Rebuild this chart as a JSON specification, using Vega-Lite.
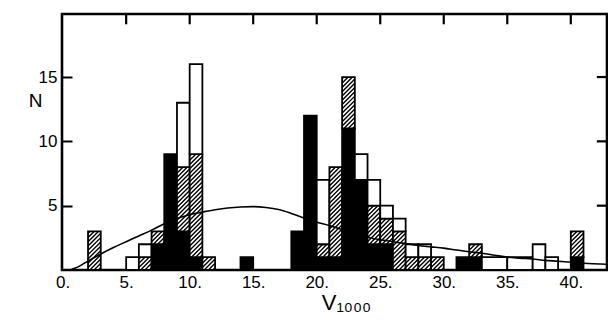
{
  "$schema": "https://vega.github.io/schema/vega-lite/v6.json",
  "width": 545,
  "height": 256,
  "autosize": {"type": "none"},
  "padding": {"left": 62, "top": 14, "right": 1, "bottom": 55},
  "background": "white",
  "config": {
    "view": {"stroke": "black", "strokeWidth": 2.6},
    "font": "Liberation Sans"
  },
  "datasets": {
    "bars": [
      {"x0": 2, "x1": 3, "type": "hatched", "n": 3},
      {"x0": 5, "x1": 6, "type": "open", "n": 1},
      {"x0": 6, "x1": 7, "type": "hatched", "n": 1},
      {"x0": 6, "x1": 7, "type": "open", "n": 1},
      {"x0": 7, "x1": 8, "type": "black", "n": 2},
      {"x0": 7, "x1": 8, "type": "hatched", "n": 1},
      {"x0": 8, "x1": 9, "type": "black", "n": 9},
      {"x0": 9, "x1": 10, "type": "black", "n": 3},
      {"x0": 9, "x1": 10, "type": "hatched", "n": 5},
      {"x0": 9, "x1": 10, "type": "open", "n": 5},
      {"x0": 10, "x1": 11, "type": "black", "n": 1},
      {"x0": 10, "x1": 11, "type": "hatched", "n": 8},
      {"x0": 10, "x1": 11, "type": "open", "n": 7},
      {"x0": 11, "x1": 12, "type": "hatched", "n": 1},
      {"x0": 14, "x1": 15, "type": "black", "n": 1},
      {"x0": 18, "x1": 19, "type": "black", "n": 3},
      {"x0": 19, "x1": 20, "type": "black", "n": 12},
      {"x0": 20, "x1": 21, "type": "black", "n": 1},
      {"x0": 20, "x1": 21, "type": "hatched", "n": 1},
      {"x0": 20, "x1": 21, "type": "open", "n": 5},
      {"x0": 21, "x1": 22, "type": "black", "n": 1},
      {"x0": 21, "x1": 22, "type": "hatched", "n": 7},
      {"x0": 22, "x1": 23, "type": "black", "n": 11},
      {"x0": 22, "x1": 23, "type": "hatched", "n": 4},
      {"x0": 23, "x1": 24, "type": "black", "n": 7},
      {"x0": 23, "x1": 24, "type": "open", "n": 2},
      {"x0": 24, "x1": 25, "type": "black", "n": 2},
      {"x0": 24, "x1": 25, "type": "hatched", "n": 3},
      {"x0": 24, "x1": 25, "type": "open", "n": 2},
      {"x0": 25, "x1": 26, "type": "black", "n": 2},
      {"x0": 25, "x1": 26, "type": "hatched", "n": 2},
      {"x0": 25, "x1": 26, "type": "open", "n": 1},
      {"x0": 26, "x1": 27, "type": "hatched", "n": 3},
      {"x0": 26, "x1": 27, "type": "open", "n": 1},
      {"x0": 27, "x1": 28, "type": "hatched", "n": 1},
      {"x0": 27, "x1": 28, "type": "open", "n": 1},
      {"x0": 28, "x1": 29, "type": "hatched", "n": 1},
      {"x0": 28, "x1": 29, "type": "open", "n": 1},
      {"x0": 29, "x1": 30, "type": "hatched", "n": 1},
      {"x0": 31, "x1": 32, "type": "black", "n": 1},
      {"x0": 32, "x1": 33, "type": "black", "n": 1},
      {"x0": 32, "x1": 33, "type": "hatched", "n": 1},
      {"x0": 33, "x1": 35, "type": "open", "n": 1},
      {"x0": 35, "x1": 37, "type": "open", "n": 1},
      {"x0": 37, "x1": 38, "type": "open", "n": 2},
      {"x0": 38, "x1": 39, "type": "open", "n": 1},
      {"x0": 40, "x1": 41, "type": "black", "n": 1},
      {"x0": 40, "x1": 41, "type": "hatched", "n": 2}
    ],
    "curve": [
      {"v": 0.6, "N": 0.0},
      {"v": 1.0, "N": 0.15},
      {"v": 1.5, "N": 0.4},
      {"v": 2.1, "N": 0.75},
      {"v": 3.0, "N": 1.25},
      {"v": 4.0, "N": 1.75},
      {"v": 5.0, "N": 2.2},
      {"v": 6.0, "N": 2.65},
      {"v": 7.0, "N": 3.1},
      {"v": 8.0, "N": 3.6},
      {"v": 9.0, "N": 4.0},
      {"v": 10.0, "N": 4.3},
      {"v": 11.0, "N": 4.5},
      {"v": 12.0, "N": 4.68},
      {"v": 13.0, "N": 4.82},
      {"v": 14.0, "N": 4.9},
      {"v": 15.0, "N": 4.93},
      {"v": 16.0, "N": 4.86},
      {"v": 17.0, "N": 4.7},
      {"v": 18.0, "N": 4.4},
      {"v": 19.0, "N": 4.05},
      {"v": 20.0, "N": 3.72},
      {"v": 21.0, "N": 3.45},
      {"v": 22.0, "N": 3.15},
      {"v": 23.0, "N": 2.85},
      {"v": 24.0, "N": 2.55},
      {"v": 25.0, "N": 2.35},
      {"v": 26.0, "N": 2.2},
      {"v": 27.0, "N": 2.05},
      {"v": 28.0, "N": 1.9},
      {"v": 29.0, "N": 1.8},
      {"v": 30.0, "N": 1.7},
      {"v": 31.0, "N": 1.55},
      {"v": 32.0, "N": 1.42},
      {"v": 33.0, "N": 1.3},
      {"v": 34.0, "N": 1.15},
      {"v": 35.0, "N": 1.0},
      {"v": 36.0, "N": 0.92},
      {"v": 37.0, "N": 0.85},
      {"v": 38.0, "N": 0.75},
      {"v": 39.0, "N": 0.68},
      {"v": 40.0, "N": 0.6},
      {"v": 41.0, "N": 0.53},
      {"v": 42.85, "N": 0.45}
    ],
    "xticks": [{"t": 5}, {"t": 10}, {"t": 15}, {"t": 20}, {"t": 25}, {"t": 30}, {"t": 35}, {"t": 40}],
    "yticks": [{"t": 5}, {"t": 10}, {"t": 15}]
  },
  "layer": [
    {
      "data": {"name": "bars"},
      "transform": [
        {"stack": "n", "groupby": ["x0"], "sort": [{"field": "type"}], "as": ["lo", "hi"]}
      ],
      "mark": {"type": "rect", "stroke": "black", "strokeWidth": 1.8},
      "encoding": {
        "x": {"field": "x0", "type": "quantitative",
          "scale": {"domain": [-0.05, 42.85], "nice": false, "zero": false},
          "axis": {"orient": "bottom", "values": [0, 5, 10, 15, 20, 25, 30, 35, 40],
            "labelExpr": "datum.value + '.'", "ticks": false, "domain": false, "grid": false,
            "labelFontSize": 17, "labelColor": "black", "labelPadding": 4, "labelFlush": false, "labelDx": 1,
            "title": "V₁₀₀₀", "titleFontSize": 22, "titleFontWeight": "normal", "titleColor": "black",
            "titleAlign": "center", "titleBaseline": "alphabetic", "titleX": 284, "titleY": 39}},
        "x2": {"field": "x1"},
        "y": {"field": "lo", "type": "quantitative",
          "scale": {"domain": [0, 19.9], "nice": false},
          "axis": {"orient": "left", "values": [5, 10, 15], "tickSize": -10, "tickWidth": 2, "tickColor": "black",
            "domain": false, "grid": false, "labelFontSize": 17, "labelColor": "black", "labelPadding": 15,
            "title": "N", "titleAngle": 0, "titleFontSize": 19, "titleFontWeight": "normal", "titleColor": "black",
            "titleAlign": "center", "titleBaseline": "middle", "titleX": -27, "titleY": 86}},
        "y2": {"field": "hi"},
        "fill": {"field": "type", "type": "nominal",
          "scale": {"domain": ["black", "hatched", "open"], "range": ["black", "white", "white"]}, "legend": null}
      }
    },
    {
      "data": {"name": "bars"},
      "transform": [
        {"stack": "n", "groupby": ["x0"], "sort": [{"field": "type"}], "as": ["lo", "hi"]},
        {"filter": "datum.type === 'hatched'"}
      ],
      "mark": {"type": "point", "filled": false, "size": 4, "opacity": 1, "stroke": "black", "strokeWidth": 1.4},
      "encoding": {
        "x": {"field": "x0", "type": "quantitative"},
        "y": {"field": "lo", "type": "quantitative"},
        "shape": {"field": "n", "type": "nominal", "legend": null,
          "scale": {"domain": [1, 2, 3, 4, 5, 7, 8, 9],
            "range": [
              "M10.35 0L12.7 -2.35M6.06 0L12.7 -6.64M1.77 0L12.7 -10.93M0 -2.51L10.35 -12.86M0 -6.8L6.06 -12.86M0 -11.09L1.77 -12.86",
              "M10.35 0L12.7 -2.35M6.06 0L12.7 -6.64M1.77 0L12.7 -10.93M0 -2.51L12.7 -15.22M0 -6.8L12.7 -19.51M0 -11.09L12.7 -23.8M0 -15.38L10.35 -25.73M0 -19.67L6.06 -25.73M0 -23.96L1.77 -25.73",
              "M10.35 0L12.7 -2.35M6.06 0L12.7 -6.64M1.77 0L12.7 -10.93M0 -2.51L12.7 -15.22M0 -6.8L12.7 -19.51M0 -11.09L12.7 -23.8M0 -15.38L12.7 -28.08M0 -19.67L12.7 -32.37M0 -23.96L12.7 -36.66M0 -28.24L10.35 -38.59M0 -32.53L6.06 -38.59M0 -36.82L1.77 -38.59",
              "M10.35 0L12.7 -2.35M6.06 0L12.7 -6.64M1.77 0L12.7 -10.93M0 -2.51L12.7 -15.22M0 -6.8L12.7 -19.51M0 -11.09L12.7 -23.8M0 -15.38L12.7 -28.08M0 -19.67L12.7 -32.37M0 -23.96L12.7 -36.66M0 -28.24L12.7 -40.95M0 -32.53L12.7 -45.24M0 -36.82L12.7 -49.52M0 -41.11L10.35 -51.46M0 -45.4L6.06 -51.46M0 -49.68L1.77 -51.46",
              "M10.35 0L12.7 -2.35M6.06 0L12.7 -6.64M1.77 0L12.7 -10.93M0 -2.51L12.7 -15.22M0 -6.8L12.7 -19.51M0 -11.09L12.7 -23.8M0 -15.38L12.7 -28.08M0 -19.67L12.7 -32.37M0 -23.96L12.7 -36.66M0 -28.24L12.7 -40.95M0 -32.53L12.7 -45.24M0 -36.82L12.7 -49.52M0 -41.11L12.7 -53.81M0 -45.4L12.7 -58.1M0 -49.68L12.7 -62.39M0 -53.97L10.35 -64.32M0 -58.26L6.06 -64.32M0 -62.55L1.77 -64.32",
              "M10.35 0L12.7 -2.35M6.06 0L12.7 -6.64M1.77 0L12.7 -10.93M0 -2.51L12.7 -15.22M0 -6.8L12.7 -19.51M0 -11.09L12.7 -23.8M0 -15.38L12.7 -28.08M0 -19.67L12.7 -32.37M0 -23.96L12.7 -36.66M0 -28.24L12.7 -40.95M0 -32.53L12.7 -45.24M0 -36.82L12.7 -49.52M0 -41.11L12.7 -53.81M0 -45.4L12.7 -58.1M0 -49.68L12.7 -62.39M0 -53.97L12.7 -66.68M0 -58.26L12.7 -70.96M0 -62.55L12.7 -75.25M0 -66.84L12.7 -79.54M0 -71.12L12.7 -83.83M0 -75.41L12.7 -88.12M0 -79.7L10.35 -90.05M0 -83.99L6.06 -90.05M0 -88.28L1.77 -90.05",
              "M10.35 0L12.7 -2.35M6.06 0L12.7 -6.64M1.77 0L12.7 -10.93M0 -2.51L12.7 -15.22M0 -6.8L12.7 -19.51M0 -11.09L12.7 -23.8M0 -15.38L12.7 -28.08M0 -19.67L12.7 -32.37M0 -23.96L12.7 -36.66M0 -28.24L12.7 -40.95M0 -32.53L12.7 -45.24M0 -36.82L12.7 -49.52M0 -41.11L12.7 -53.81M0 -45.4L12.7 -58.1M0 -49.68L12.7 -62.39M0 -53.97L12.7 -66.68M0 -58.26L12.7 -70.96M0 -62.55L12.7 -75.25M0 -66.84L12.7 -79.54M0 -71.12L12.7 -83.83M0 -75.41L12.7 -88.12M0 -79.7L12.7 -92.4M0 -83.99L12.7 -96.69M0 -88.28L12.7 -100.98M0 -92.56L10.35 -102.91M0 -96.85L6.06 -102.91M0 -101.14L1.77 -102.91",
              "M10.35 0L12.7 -2.35M6.06 0L12.7 -6.64M1.77 0L12.7 -10.93M0 -2.51L12.7 -15.22M0 -6.8L12.7 -19.51M0 -11.09L12.7 -23.8M0 -15.38L12.7 -28.08M0 -19.67L12.7 -32.37M0 -23.96L12.7 -36.66M0 -28.24L12.7 -40.95M0 -32.53L12.7 -45.24M0 -36.82L12.7 -49.52M0 -41.11L12.7 -53.81M0 -45.4L12.7 -58.1M0 -49.68L12.7 -62.39M0 -53.97L12.7 -66.68M0 -58.26L12.7 -70.96M0 -62.55L12.7 -75.25M0 -66.84L12.7 -79.54M0 -71.12L12.7 -83.83M0 -75.41L12.7 -88.12M0 -79.7L12.7 -92.4M0 -83.99L12.7 -96.69M0 -88.28L12.7 -100.98M0 -92.56L12.7 -105.27M0 -96.85L12.7 -109.56M0 -101.14L12.7 -113.85M0 -105.43L10.35 -115.78M0 -109.72L6.06 -115.78M0 -114.01L1.77 -115.78"
            ]}}
      }
    },
    {
      "data": {"name": "curve"},
      "mark": {"type": "line", "color": "black", "strokeWidth": 1.6, "interpolate": "monotone", "clip": true},
      "encoding": {
        "x": {"field": "v", "type": "quantitative"},
        "y": {"field": "N", "type": "quantitative"}
      }
    },
    {
      "data": {"name": "xticks"},
      "mark": {"type": "rule", "color": "black", "strokeWidth": 2.2},
      "encoding": {
        "x": {"field": "t", "type": "quantitative"},
        "y": {"datum": 19.9, "type": "quantitative"},
        "y2": {"datum": 19.1}
      }
    },
    {
      "data": {"name": "yticks"},
      "mark": {"type": "rule", "color": "black", "strokeWidth": 2.2},
      "encoding": {
        "y": {"field": "t", "type": "quantitative"},
        "x": {"datum": 42.85, "type": "quantitative"},
        "x2": {"datum": 42.05}
      }
    }
  ]
}
